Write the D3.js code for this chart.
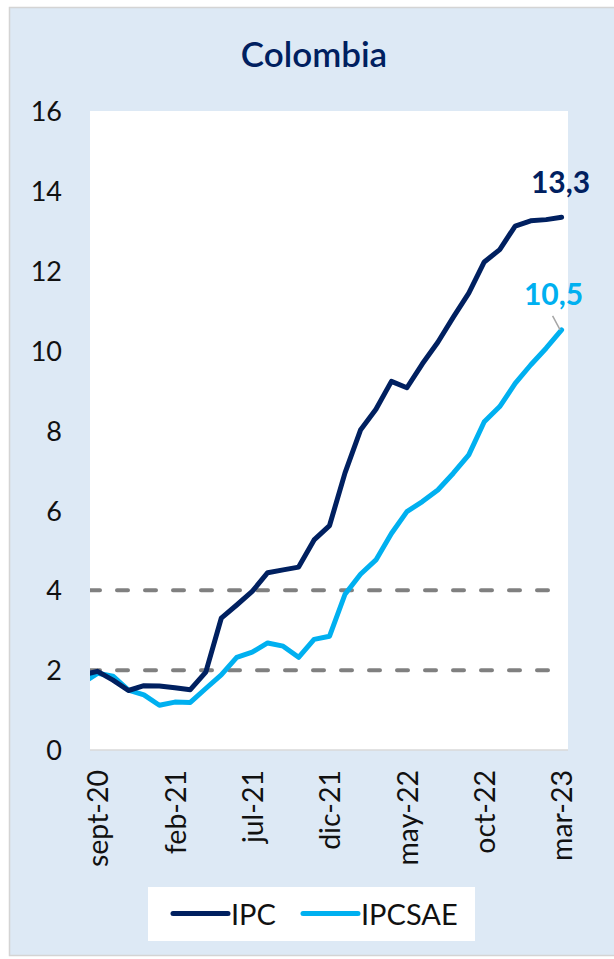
<!DOCTYPE html>
<html>
<head>
<meta charset="utf-8">
<script src="https://cdn.jsdelivr.net/npm/d3@7"></script>
<style>
  html, body { margin: 0; padding: 0; background: #ffffff; }
  svg { display: block; }
  text { font-family: Lato, "Noto Sans", sans-serif; }
</style>
</head>
<body>
<script>
// ---- data ----
const categories = ["ago-20","sept-20","oct-20","nov-20","dic-20",
  "ene-21","feb-21","mar-21","abr-21","may-21","jun-21","jul-21","ago-21","sept-21","oct-21","nov-21","dic-21",
  "ene-22","feb-22","mar-22","abr-22","may-22","jun-22","jul-22","ago-22","sept-22","oct-22","nov-22","dic-22",
  "ene-23","feb-23","mar-23"];
const ipc = [1.88, 1.97,1.75,1.49,1.61,
  1.60,1.56,1.51,1.95,3.30,3.63,3.97,4.44,4.51,4.58,5.26,5.62,
  6.94,8.01,8.53,9.23,9.07,9.67,10.21,10.84,11.44,12.22,12.53,13.12,
  13.25,13.28,13.34];
const ipcsae = [1.67, 1.92,1.85,1.50,1.38,
  1.12,1.20,1.19,1.54,1.88,2.32,2.45,2.68,2.60,2.32,2.77,2.85,
  3.90,4.40,4.76,5.42,5.97,6.22,6.51,6.93,7.39,8.22,8.60,9.18,
  9.64,10.06,10.52];
const tickLabels = ["sept-20","feb-21","jul-21","dic-21","may-22","oct-22","mar-23"];
const yTicks = [0,2,4,6,8,10,12,14,16];
const refLines = [2, 4];
const seriesNames = ["IPC", "IPCSAE"];
const colors = ["#002060", "#00B0F0"];

// ---- layout ----
const W = 614, H = 959;
const plot = { left: 90, right: 568, top: 111, bottom: 750 };

const svg = d3.select("body").append("svg").attr("width", W).attr("height", H);

// panel background
svg.append("rect").attr("x", 9.5).attr("y", 7.5).attr("width", 640).attr("height", 948)
  .attr("fill", "#DDE9F5").attr("stroke", "#D4D4D4").attr("stroke-width", 1.5);

// title
svg.append("text").attr("x", 314).attr("y", 67).attr("text-anchor", "middle")
  .attr("font-size", 35).attr("font-weight", 600).attr("fill", "#002060").text("Colombia");

// plot area
svg.append("rect").attr("x", plot.left).attr("y", plot.top)
  .attr("width", plot.right - plot.left).attr("height", plot.bottom - plot.top).attr("fill", "#ffffff");

const x = d3.scaleLinear().domain([1, categories.length - 1]).range([97.5, 561.6]);
const y = d3.scaleLinear().domain([0, 16]).range([plot.bottom, plot.top]);

svg.append("clipPath").attr("id", "clip").append("rect")
  .attr("x", plot.left).attr("y", plot.top - 20)
  .attr("width", plot.right - plot.left + 20).attr("height", plot.bottom - plot.top + 40);

// y axis labels
const yAxis = d3.axisLeft(y).tickValues(yTicks).tickSize(0).tickPadding(0).tickFormat(d3.format("d"));
const yg = svg.append("g").attr("transform", "translate(62,0)").call(yAxis);
yg.select(".domain").remove();
yg.selectAll("text").attr("font-size", 27).attr("fill", "#111").attr("font-family", "Lato, sans-serif")
  .attr("dy", "0.36em");

// x axis baseline
svg.append("line").attr("x1", plot.left).attr("x2", plot.right).attr("y1", plot.bottom).attr("y2", plot.bottom)
  .attr("stroke", "#D9D9D9").attr("stroke-width", 1.5);

// x labels
const tickIdx = tickLabels.map(t => categories.indexOf(t));
const xAxis = d3.axisBottom(x).tickValues(tickIdx).tickSize(0).tickPadding(0)
  .tickFormat(i => categories[i]);
const xg = svg.append("g").attr("transform", `translate(0,${plot.bottom})`).call(xAxis);
xg.select(".domain").remove();
xg.selectAll("text").attr("font-size", 28.5).attr("fill", "#111").attr("font-family", "Lato, sans-serif")
  .attr("text-anchor", "end").attr("transform", "rotate(-90)")
  .attr("x", -20).attr("y", 0).attr("dy", "0.36em");

// reference dashed lines
const g = svg.append("g").attr("clip-path", "url(#clip)");
g.selectAll(".ref").data(refLines).enter().append("line")
  .attr("x1", plot.left).attr("x2", x(30.5))
  .attr("y1", d => y(d)).attr("y2", d => y(d))
  .attr("stroke", "#808080").attr("stroke-width", 4)
  .attr("stroke-dasharray", "11,17").attr("stroke-dashoffset", 1)
  .attr("stroke-linecap", "round");

// series lines
const line = d3.line().x((d, i) => x(i)).y(d => y(d));
[ipcsae, ipc].forEach((s, k) => {
  g.append("path").datum(s).attr("d", line).attr("fill", "none")
    .attr("stroke", k === 0 ? colors[1] : colors[0]).attr("stroke-width", 5)
    .attr("stroke-linejoin", "round").attr("stroke-linecap", "round");
});

// data labels
const last = categories.length - 1;
const fmt = v => d3.format(".1f")(v).replace(".", ",");
svg.append("text").attr("x", x(last) - 1).attr("y", y(ipc[last]) - 24).attr("text-anchor", "middle")
  .attr("font-size", 30).attr("font-weight", 700).attr("fill", colors[0]).text(fmt(ipc[last]));
svg.append("line").attr("x1", x(last) - 1.5).attr("y1", y(ipcsae[last]))
  .attr("x2", x(last) - 9).attr("y2", y(ipcsae[last]) - 14)
  .attr("stroke", "#A6A6A6").attr("stroke-width", 1.5);
svg.append("text").attr("x", x(last) - 8).attr("y", y(ipcsae[last]) - 25).attr("text-anchor", "middle")
  .attr("font-size", 30).attr("font-weight", 700).attr("fill", colors[1]).text(fmt(ipcsae[last]));

// legend
const lg = svg.append("g");
lg.append("rect").attr("x", 148).attr("y", 887).attr("width", 327).attr("height", 54).attr("fill", "#ffffff");
const legItems = [{ name: seriesNames[0], color: colors[0], x0: 173 }, { name: seriesNames[1], color: colors[1], x0: 303 }];
legItems.forEach(d => {
  lg.append("line").attr("x1", d.x0).attr("x2", d.x0 + 55).attr("y1", 913.5).attr("y2", 913.5)
    .attr("stroke", d.color).attr("stroke-width", 5).attr("stroke-linecap", "round");
  lg.append("text").attr("x", d.x0 + 58).attr("y", 924.5).attr("font-size", 29).attr("fill", "#111")
    .text(d.name);
});
</script>
</body>
</html>
